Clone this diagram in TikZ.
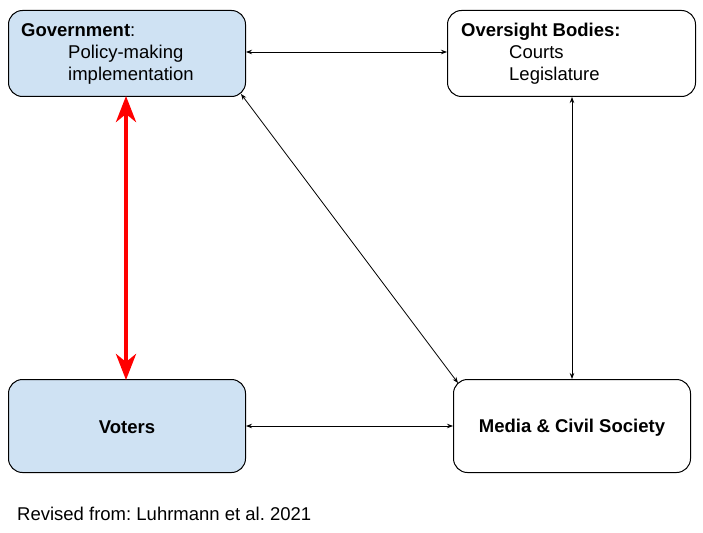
\documentclass[tikz,border=0pt]{standalone}
\usepackage{fontspec}
\setmainfont{Liberation Sans}
\usetikzlibrary{arrows.meta}
\definecolor{boxblue}{HTML}{CFE2F3}
\frenchspacing
\begin{document}
\begin{tikzpicture}[x=1pt,y=-1pt,
  box/.style={draw=black, line width=1pt, rounded corners=14pt, inner sep=0pt, anchor=north west},
  bluebox/.style={box, fill=boxblue},
  whitebox/.style={box, fill=white},
  txt/.style={inner sep=0pt, anchor=base west, font=\fontsize{18.5}{22}\selectfont},
  btxt/.style={inner sep=0pt, font=\fontsize{18.5}{22}\selectfont\bfseries},
  link/.style={line width=0.8pt, {Stealth[length=6pt,width=4.5pt]}-{Stealth[length=6pt,width=4.5pt]}},
  redlink/.style={draw=red, line width=4.2pt, {Stealth[length=26pt,width=20pt,inset=8pt]}-{Stealth[length=26pt,width=20pt,inset=8pt]}}
]
\useasboundingbox (0,0) rectangle (703,532);
\fill[white] (0,0) rectangle (703,532);

\node[bluebox, minimum width=237pt, minimum height=86pt] (gov) at (8,10) {};
\node[whitebox, minimum width=248pt, minimum height=86pt] (over) at (447,10) {};
\node[bluebox, minimum width=237pt, minimum height=93pt] (vot) at (8,379) {};
\node[whitebox, minimum width=237pt, minimum height=93pt] (med) at (453,379) {};

\node[txt] (govt) at (21,37) {\textbf{Government}:};
\node[txt] (govp) at (68,59) {Policy-making};
\node[txt] (govi) at (68,81) {implementation};

\node[txt] (ovt) at (461,37) {\textbf{Oversight Bodies:}};
\node[txt] (ovc) at (509,59) {Courts};
\node[txt] (ovl) at (509,81) {Legislature};

\node[btxt, yshift=-1.5pt] (vott) at (vot.center) {Voters};
\node[btxt, yshift=-1.5pt] (medt) at (med.center) {Media \& Civil Society};

\node[txt] (src) at (17,520) {Revised from: Luhrmann et al. 2021};

\coordinate (govR) at (gov.north east |- 0,52);
\coordinate (ovL) at (over.north west |- 0,52);
\draw[link] (govR) -- (ovL);

\coordinate (votR) at (vot.north east |- 0,426);
\coordinate (medL) at (med.north west |- 0,426);
\draw[link] (votR) -- (medL);

\coordinate (ovB) at (572,0 |- over.south);
\coordinate (medT) at (572,0 |- med.north);
\draw[link] (ovB) -- (medT);

\coordinate (govC) at (241,94);
\coordinate (medC) at (458,383);
\draw[link] (govC) -- (medC);

\coordinate (govB) at (126,0 |- gov.south);
\coordinate (votT) at (126,0 |- vot.north);
\draw[redlink] ([yshift=1pt]govB) -- ([yshift=-1pt]votT);
\end{tikzpicture}
\end{document}
